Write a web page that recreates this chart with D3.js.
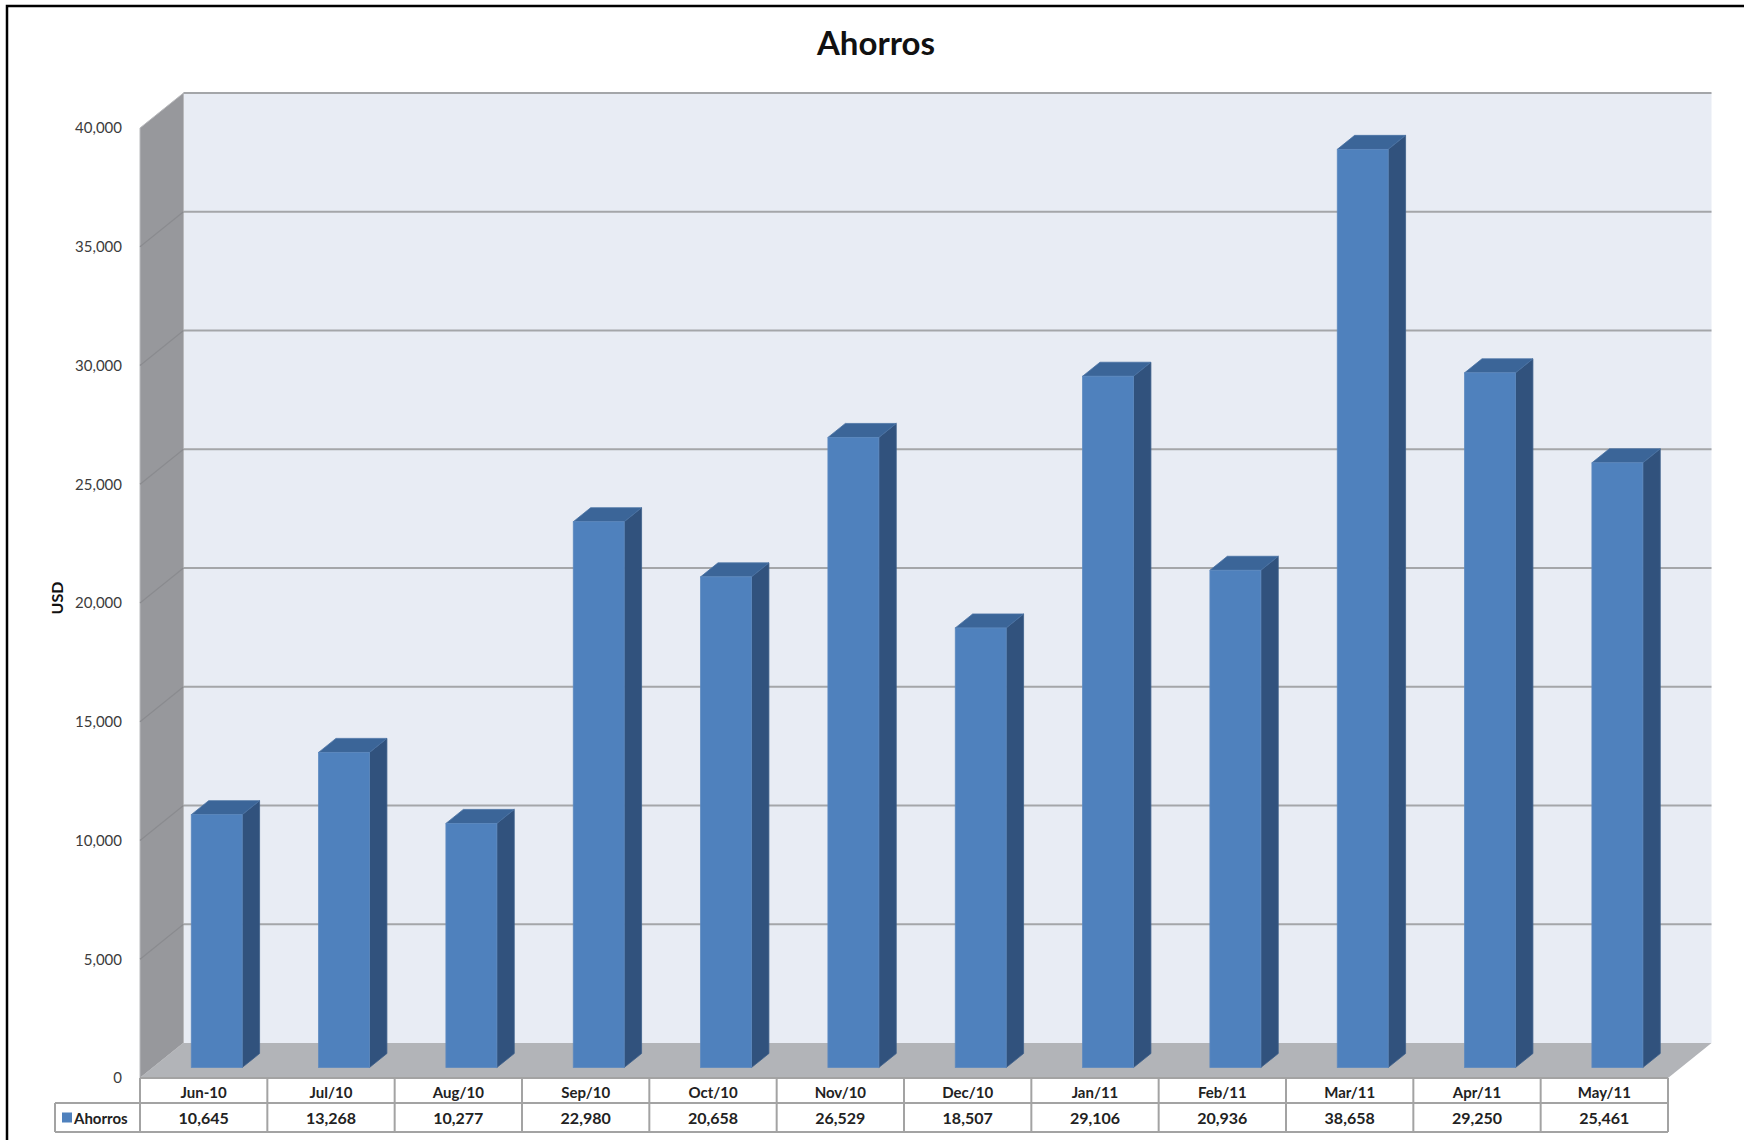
<!DOCTYPE html>
<html>
<head>
<meta charset="utf-8">
<script src="https://cdn.jsdelivr.net/npm/d3@7"></script>
<style>
  html, body { margin: 0; padding: 0; background: #fff; }
  svg { display: block; font-family: Lato, "Open Sans", sans-serif; }
</style>
</head>
<body>
<svg id="chart" width="1744" height="1140"></svg>
<script>
// Ahorros — fake-3D column chart with a data table under the floor.

const months = ["Jun-10", "Jul/10", "Aug/10", "Sep/10", "Oct/10", "Nov/10",
                "Dec/10", "Jan/11", "Feb/11", "Mar/11", "Apr/11", "May/11"];
const ahorros = [10645, 13268, 10277, 22980, 20658, 26529,
                 18507, 29106, 20936, 38658, 29250, 25461];
const yTicks = [0, 5000, 10000, 15000, 20000, 25000, 30000, 35000, 40000];
const seriesName = "Ahorros";

const svg = d3.select("#chart");

// front plane of the box
const plotLeft = 140, plotRight = 1668, plotBase = 1078, plotTop = 128;
// full depth of the box (oblique projection)
const DX = 43.5, DY = -35;
const off = t => [DX * t, DY * t];

const xScale = d3.scaleBand().domain(months).range([plotLeft, plotRight]);
const yScale = d3.scaleLinear().domain([0, 40000]).range([plotBase, plotTop]);

const poly = pts => pts.map(p => p.join(",")).join(" ");

// walls + floor
svg.append("polygon")
  .attr("points", poly([[plotLeft + DX, plotTop + DY], [plotRight + DX, plotTop + DY],
                        [plotRight + DX, plotBase + DY], [plotLeft + DX, plotBase + DY]]))
  .attr("fill", "#e8ecf4");
svg.append("polygon")
  .attr("points", poly([[plotLeft, plotTop], [plotLeft + DX, plotTop + DY],
                        [plotLeft + DX, plotBase + DY], [plotLeft, plotBase]]))
  .attr("fill", "#97989c").attr("stroke", "#b9babd").attr("stroke-width", 1);
svg.append("polygon")
  .attr("points", poly([[plotLeft, plotBase], [plotLeft + DX, plotBase + DY],
                        [plotRight + DX, plotBase + DY], [plotRight, plotBase]]))
  .attr("fill", "#b2b4b8");

// gridlines: across the back wall and slanting down the side wall
const grid = svg.append("g");
grid.selectAll(".gback").data(yTicks.filter(v => v > 0)).join("line")
  .attr("x1", plotLeft + DX).attr("x2", plotRight + DX)
  .attr("y1", d => yScale(d) + DY).attr("y2", d => yScale(d) + DY)
  .attr("stroke", "#a4a6a9").attr("stroke-width", 2.2);
grid.selectAll(".gside").data(yTicks.filter(v => v > 0 && v < 40000)).join("line")
  .attr("x1", plotLeft).attr("x2", plotLeft + DX)
  .attr("y1", d => yScale(d)).attr("y2", d => yScale(d) + DY)
  .attr("stroke", "#8a8b8f").attr("stroke-width", 1.2);

// y axis labels
const yAxis = d3.axisLeft(yScale).tickValues(yTicks).tickFormat(d3.format(",")).tickSize(0).tickPadding(0);
svg.append("g")
  .attr("transform", `translate(${plotLeft - 18},0)`)
  .call(yAxis)
  .call(g => g.select(".domain").remove())
  .selectAll("text")
  .attr("fill", "#3c3c3c")
  .style("font-family", "Lato, sans-serif")
  .style("font-size", "15px");

svg.append("text")
  .attr("transform", "translate(56,598) rotate(-90)")
  .attr("text-anchor", "middle").attr("dominant-baseline", "central")
  .style("font-size", "16px").style("font-weight", "bold")
  .attr("fill", "#111")
  .text("USD");

// bars, sitting between 30% and 70% of the depth
const bw = xScale.bandwidth() * 0.4;
const [fx, fy] = off(0.3);
const [bx, by] = off(0.7);
const sdx = bx - fx, sdy = by - fy;

const bars = svg.append("g").selectAll("g").data(months).join("g");
bars.each(function(m, i) {
  const g = d3.select(this);
  const x0 = xScale(m) + (xScale.bandwidth() - bw) / 2 + fx;
  const x1 = x0 + bw;
  const y0 = yScale(0) + fy;
  const y1 = yScale(ahorros[i]) + fy;
  g.append("polygon") // side
    .attr("points", poly([[x1, y1], [x1 + sdx, y1 + sdy], [x1 + sdx, y0 + sdy], [x1, y0]]))
    .attr("fill", "#31527d").attr("stroke", "#3d5f8a").attr("stroke-width", 0.8);
  g.append("polygon") // top
    .attr("points", poly([[x0, y1], [x0 + sdx, y1 + sdy], [x1 + sdx, y1 + sdy], [x1, y1]]))
    .attr("fill", "#3b6598").attr("stroke", "#4a72a3").attr("stroke-width", 0.8);
  g.append("rect") // front
    .attr("x", x0).attr("y", y1).attr("width", bw).attr("height", y0 - y1)
    .attr("fill", "#4f81bd").attr("stroke", "#5d89bf").attr("stroke-width", 0.8);
});

// data table
const rowH1 = 25, rowH2 = 29;
const legendLeft = 55;
const table = svg.append("g");
const lineColor = "#a3a3a3";
const hline = (x1, x2, y) => table.append("line").attr("x1", x1).attr("x2", x2).attr("y1", y).attr("y2", y)
  .attr("stroke", lineColor).attr("stroke-width", 2);
const vline = (x, y1, y2) => table.append("line").attr("x1", x).attr("x2", x).attr("y1", y1).attr("y2", y2)
  .attr("stroke", lineColor).attr("stroke-width", 2);

hline(plotLeft, plotRight, plotBase);
hline(legendLeft, plotRight, plotBase + rowH1);
hline(legendLeft, plotRight, plotBase + rowH1 + rowH2);
vline(legendLeft, plotBase + rowH1, plotBase + rowH1 + rowH2);
months.forEach(m => vline(xScale(m), plotBase, plotBase + rowH1 + rowH2));
vline(plotRight, plotBase, plotBase + rowH1 + rowH2);

table.selectAll(".cat").data(months).join("text")
  .attr("x", d => xScale(d) + xScale.bandwidth() / 2)
  .attr("y", plotBase + rowH1 / 2 + 1)
  .attr("text-anchor", "middle").attr("dominant-baseline", "central")
  .style("font-size", "15px").style("font-weight", "bold").attr("fill", "#222")
  .text(d => d);

table.selectAll(".val").data(ahorros).join("text")
  .attr("x", (d, i) => xScale(months[i]) + xScale.bandwidth() / 2)
  .attr("y", plotBase + rowH1 + rowH2 / 2)
  .attr("text-anchor", "middle").attr("dominant-baseline", "central")
  .style("font-size", "16px").style("font-weight", "bold").attr("fill", "#222")
  .text(d => d3.format(",")(d));

table.append("rect")
  .attr("x", legendLeft + 7).attr("y", plotBase + rowH1 + rowH2 / 2 - 5)
  .attr("width", 10).attr("height", 10).attr("fill", "#4f81bd");
table.append("text")
  .attr("x", legendLeft + 19).attr("y", plotBase + rowH1 + rowH2 / 2)
  .attr("dominant-baseline", "central")
  .style("font-size", "15px").style("font-weight", "bold").attr("fill", "#222")
  .text(seriesName);

// title
svg.append("text")
  .attr("x", 876).attr("y", 55)
  .attr("text-anchor", "middle")
  .style("font-size", "33px").style("font-weight", "bold").attr("fill", "#111")
  .text("Ahorros");

// outer frame (runs off the right and bottom of the picture)
svg.append("rect")
  .attr("x", 7).attr("y", 6).attr("width", 1800).attr("height", 1200)
  .attr("fill", "none").attr("stroke", "#000").attr("stroke-width", 2.5);
</script>
</body>
</html>
